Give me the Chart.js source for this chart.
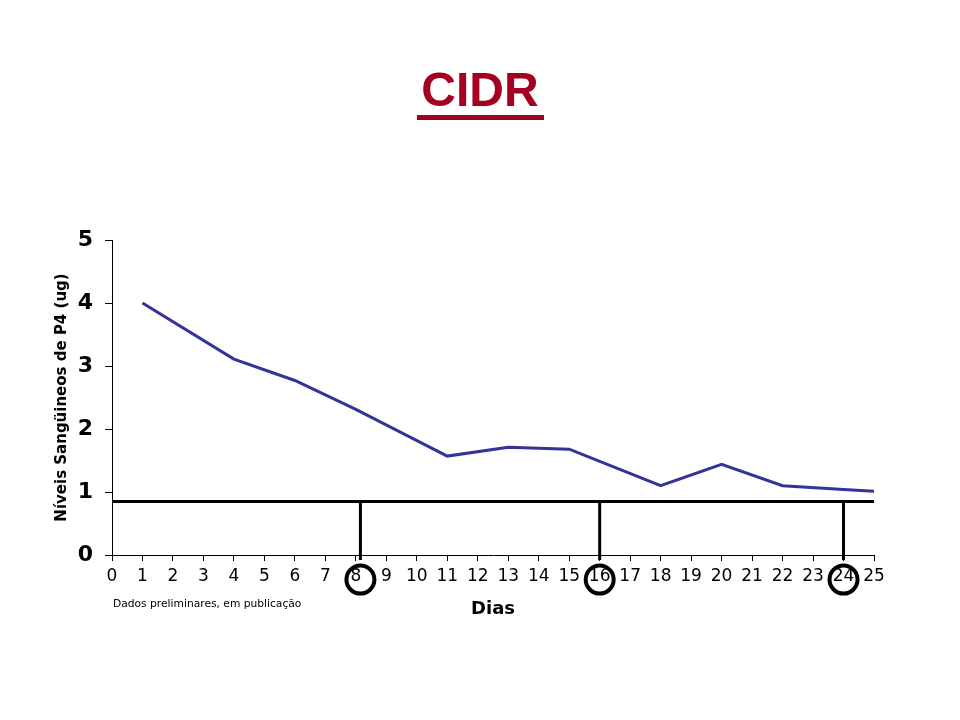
<!DOCTYPE html>
<html>
<head>
<meta charset="utf-8">
<script src="https://cdn.jsdelivr.net/npm/chart.js@4/dist/chart.umd.min.js"></script>
<style>
  html, body { margin: 0; padding: 0; background: #fff; }
  #wrap { position: relative; width: 960px; height: 720px; }
</style>
</head>
<body>
<div id="wrap"><canvas id="c" width="960" height="720"></canvas></div>
<script>
// ---- data ----
const chartTitle = 'CIDR';
const days = [1, 4, 6, 8, 11, 13, 15, 18, 20, 22, 24, 25];
const p4Values = [4.0, 3.11, 2.77, 2.31, 1.57, 1.71, 1.68, 1.10, 1.44, 1.10, 1.04, 1.01];
const thresholdLevel = 0.85;
const markerDays = [8.15, 16, 24];
const markerLineBottom = -0.08;
const circleLevel = -0.39;
const xTickMin = 0, xTickMax = 25;
const yTickMin = 0, yTickMax = 5;
const yTitle = 'Níveis Sangüineos de P4 (ug)';
const xTitle = 'Dias';
const footnote = 'Dados preliminares, em publicação';

const seriesData = days.map((d, i) => ({ x: d, y: p4Values[i] }));
const thresholdData = [{ x: xTickMin, y: thresholdLevel }, { x: xTickMax, y: thresholdLevel }];
const markerLineData = [];
markerDays.forEach(d => {
  markerLineData.push({ x: d, y: thresholdLevel });
  markerLineData.push({ x: d, y: markerLineBottom });
  markerLineData.push({ x: d, y: null });
});

const circlePlugin = {
  id: 'markerCircles',
  afterDatasetsDraw(chart) {
    const ctx = chart.ctx;
    const xs = chart.scales.x, ys = chart.scales.y;
    ctx.save();
    ctx.strokeStyle = '#000';
    ctx.lineWidth = 4;
    markerDays.forEach(d => {
      ctx.beginPath();
      ctx.arc(xs.getPixelForValue(d), ys.getPixelForValue(circleLevel), 14, 0, Math.PI * 2);
      ctx.stroke();
    });
    ctx.restore();
  }
};

const textPlugin = {
  id: 'texts',
  afterDraw(chart) {
    const ctx = chart.ctx;
    const area = chart.chartArea;
    ctx.save();
    ctx.font = 'bold 48px "Liberation Sans", Arial, sans-serif';
    ctx.fillStyle = '#A50021';
    ctx.textAlign = 'center';
    ctx.textBaseline = 'alphabetic';
    ctx.fillText(chartTitle, 480, 106);
    ctx.fillRect(417, 115, 127, 5);
    ctx.font = '10.7px "DejaVu Sans", Verdana, sans-serif';
    ctx.fillStyle = '#000';
    ctx.textAlign = 'left';
    ctx.textBaseline = 'middle';
    ctx.fillText(footnote, area.left + 1, 604);
    ctx.restore();
  }
};

new Chart(document.getElementById('c'), {
  type: 'line',
  data: {
    datasets: [
      { data: seriesData, borderColor: '#333399', borderWidth: 3, pointRadius: 0, tension: 0, fill: false },
      { data: thresholdData, borderColor: '#000', borderWidth: 3, pointRadius: 0, fill: false, clip: false },
      { data: markerLineData, borderColor: '#000', borderWidth: 3, pointRadius: 0, fill: false, spanGaps: false, clip: false }
    ]
  },
  options: {
    responsive: false,
    animation: false,
    events: [],
    layout: { padding: { top: 240, right: 86, bottom: 0, left: 0 } },
    plugins: { legend: { display: false }, tooltip: { enabled: false }, title: { display: false } },
    scales: {
      x: {
        type: 'linear', min: xTickMin, max: xTickMax,
        afterFit(scale) { scale.height = 165; },
        ticks: { stepSize: 1, autoSkip: false, maxRotation: 0, color: '#000', padding: 5,
                 font: { family: '"DejaVu Sans", Verdana, sans-serif', size: 17 } },
        grid: { drawOnChartArea: false, drawTicks: true, tickLength: 6, color: '#000', lineWidth: 1 },
        border: { color: '#000', width: 1 },
        title: { display: true, text: xTitle, color: '#000', padding: { top: 0, bottom: 100 },
                 font: { family: '"DejaVu Sans", Verdana, sans-serif', size: 18, weight: 'bold' } }
      },
      y: {
        min: yTickMin, max: yTickMax,
        afterFit(scale) { scale.width = 112; },
        ticks: { stepSize: 1, color: '#000', padding: 12,
                 font: { family: '"DejaVu Sans", Verdana, sans-serif', size: 22, weight: 'bold' } },
        grid: { drawOnChartArea: false, drawTicks: true, tickLength: 7, color: '#000', lineWidth: 1 },
        border: { color: '#000', width: 1 },
        title: { display: true, text: yTitle, color: '#000', padding: { top: 53, bottom: 0 },
                 font: { family: '"DejaVu Sans", Verdana, sans-serif', size: 15, weight: 'bold' } }
      }
    }
  },
  plugins: [circlePlugin, textPlugin]
});
</script>
</body>
</html>
